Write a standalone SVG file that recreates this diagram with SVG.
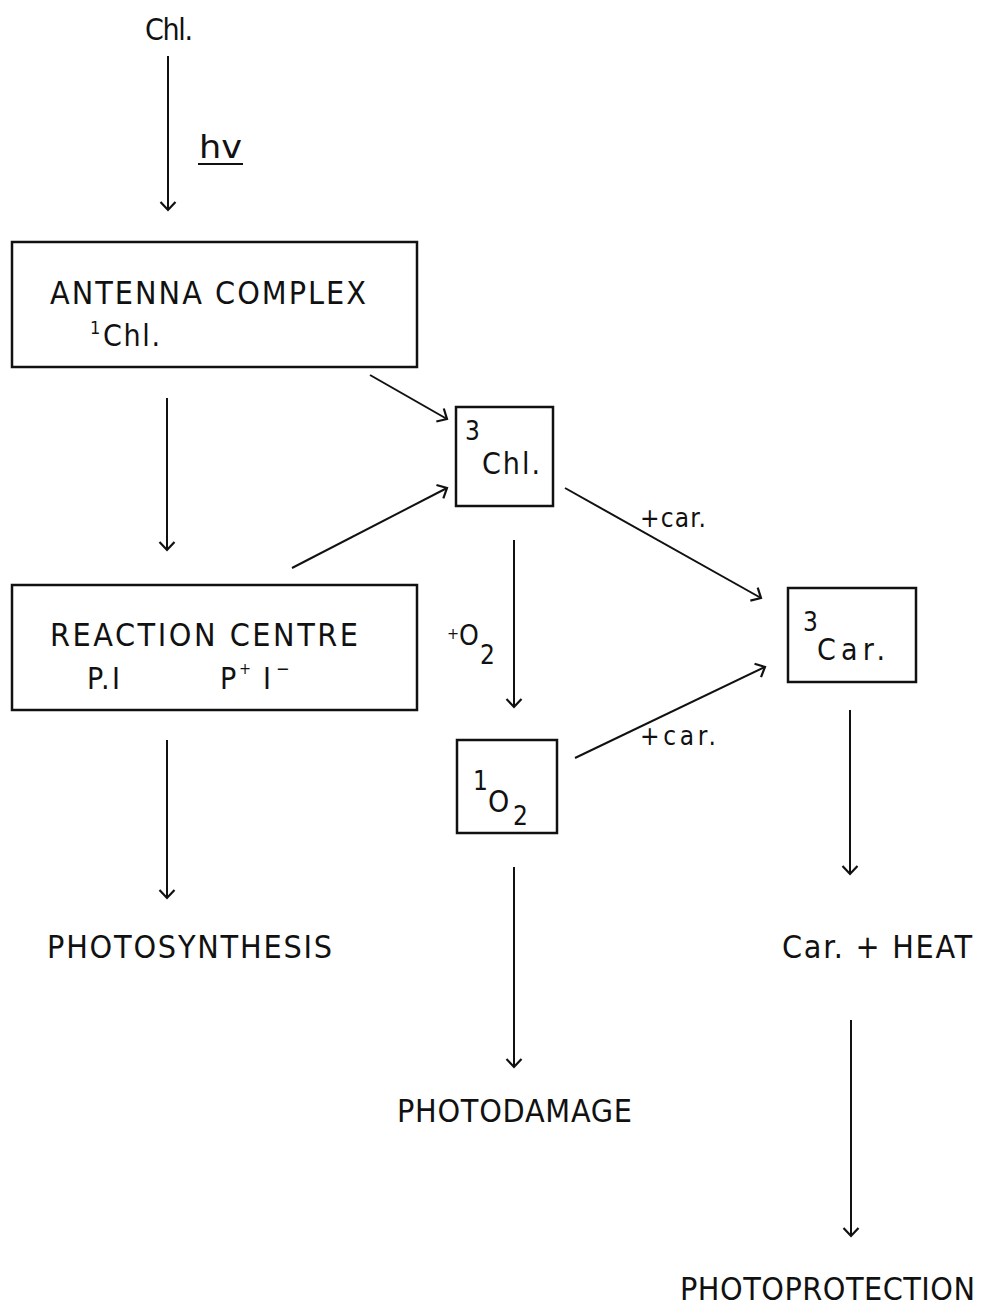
<svg xmlns="http://www.w3.org/2000/svg" width="984" height="1309" viewBox="0 0 984 1309">
<style>
.t{font-family:"DejaVu Sans Condensed","DejaVu Sans","Liberation Sans",sans-serif;fill:#111;}
.box{fill:none;stroke:#111;stroke-width:2.5;}
.c{fill:none;stroke:#111;stroke-width:2;marker-end:url(#ah);}
</style>
<defs>
<marker id="ah" viewBox="-10 -9 12 18" refX="0" refY="0" markerWidth="12" markerHeight="18" markerUnits="userSpaceOnUse" orient="auto">
<path d="M-8,-7.5 L0,0 L-8,7.5" fill="none" stroke="#111" stroke-width="2.2"/>
</marker>
</defs>
<rect width="984" height="1309" fill="#fff"/>

<g id="chl">
<text class="t" x="145" y="40" font-size="30" textLength="48">Chl.</text>
</g>
<g id="hv-label">
<text class="t" x="199" y="158" font-size="32" textLength="43" lengthAdjust="spacingAndGlyphs">hv</text>
<line x1="198" y1="164" x2="243" y2="164" stroke="#111" stroke-width="2"/>
</g>
<g id="antenna">
<rect class="box" x="12" y="242" width="405" height="125"/>
<text class="t" x="50" y="304" font-size="32" textLength="316">ANTENNA COMPLEX</text>
<text class="t" x="90" y="334" font-size="18">1</text>
<text class="t" x="103" y="346" font-size="30" textLength="57">Chl.</text>
</g>
<g id="reaction-centre">
<rect class="box" x="12" y="585" width="405" height="125"/>
<text class="t" x="50" y="646" font-size="32" textLength="308">REACTION CENTRE</text>
<text class="t" x="87" y="689" font-size="30" textLength="33">P.I</text>
<text class="t" x="220" y="689" font-size="30">P</text>
<text class="t" x="239" y="674" font-size="16">+</text>
<text class="t" x="263" y="689" font-size="30">I</text>
<text class="t" x="276" y="675" font-size="18">−</text>
</g>
<g id="chl3">
<rect class="box" x="456" y="407" width="97" height="99"/>
<text class="t" x="465" y="440" font-size="26">3</text>
<text class="t" x="482" y="474" font-size="30" textLength="58">Chl.</text>
</g>
<g id="car3">
<rect class="box" x="788" y="588" width="128" height="94"/>
<text class="t" x="803" y="631" font-size="26">3</text>
<text class="t" x="817" y="660" font-size="30" textLength="68">Car.</text>
</g>
<g id="o2-singlet">
<rect class="box" x="457" y="740" width="100" height="93"/>
<text class="t" x="473" y="790" font-size="26">1</text>
<text class="t" x="488" y="812" font-size="30">O</text>
<text class="t" x="513" y="825" font-size="26">2</text>
</g>
<g id="photosynthesis">
<text class="t" x="47" y="958" font-size="32" textLength="285">PHOTOSYNTHESIS</text>
</g>
<g id="heat">
<text class="t" x="782" y="958" font-size="32" textLength="190">Car. + HEAT</text>
</g>
<g id="photodamage">
<text class="t" x="397" y="1122" font-size="32" textLength="235">PHOTODAMAGE</text>
</g>
<g id="photoprotection">
<text class="t" x="680" y="1300" font-size="32" textLength="295">PHOTOPROTECTION</text>
</g>

<g id="connectors">
<line class="c" x1="168" y1="56" x2="168" y2="210"/>
<line class="c" x1="167" y1="398" x2="167" y2="550"/>
<line class="c" x1="370" y1="375" x2="447" y2="419"/>
<line class="c" x1="292" y1="568" x2="447" y2="488"/>
<line class="c" x1="514" y1="540" x2="514" y2="707"/>
<line class="c" x1="565" y1="488" x2="761" y2="598"/>
<line class="c" x1="575" y1="758" x2="765" y2="667"/>
<line class="c" x1="167" y1="740" x2="167" y2="898"/>
<line class="c" x1="514" y1="867" x2="514" y2="1067"/>
<line class="c" x1="850" y1="710" x2="850" y2="874"/>
<line class="c" x1="851" y1="1020" x2="851" y2="1236"/>
<text class="t" x="640" y="527" font-size="26" textLength="66">+car.</text>
<text class="t" x="640" y="745" font-size="26" textLength="76">+car.</text>
<text class="t" x="447" y="639" font-size="16">+</text>
<text class="t" x="459" y="645" font-size="28">O</text>
<text class="t" x="480" y="664" font-size="26">2</text>
</g>
</svg>
